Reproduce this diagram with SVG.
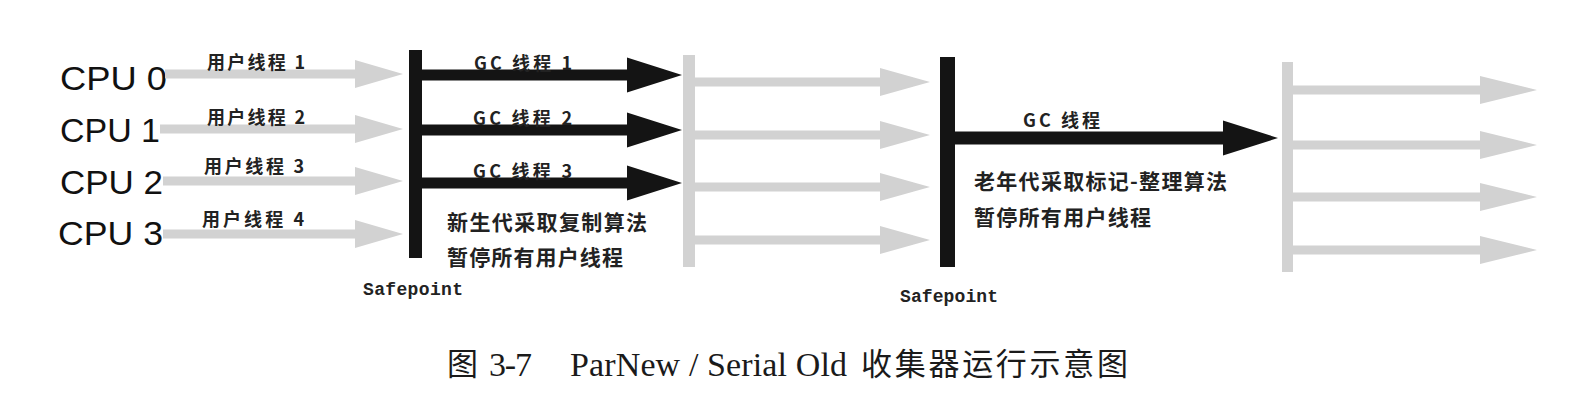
<svg xmlns="http://www.w3.org/2000/svg" width="1578" height="403" viewBox="0 0 1578 403">
<style>
.cpu{font-family:"Liberation Sans",Arial,sans-serif;font-size:34px;fill:#111}
.lbl{font-family:"Noto Sans CJK SC","Liberation Sans",sans-serif;font-size:18px;font-weight:bold;fill:#222}
.note{font-family:"Noto Sans CJK SC","Liberation Sans",sans-serif;font-size:21px;font-weight:bold;fill:#222}
.sp{font-family:"Liberation Mono",monospace;font-size:18px;font-weight:bold;fill:#222}
.cap{font-family:"Liberation Serif","Noto Sans CJK SC",serif;font-size:34px;fill:#1a1a1a}
.capc{font-family:"Noto Sans CJK SC",sans-serif;font-size:31px;fill:#1a1a1a}
.gray{fill:#d2d2d2}
.blk{fill:#141414}
</style>
<rect width="1578" height="403" fill="#ffffff"/>
<g id="cpu-labels">
<text class="cpu" x="60" y="90" textLength="107" lengthAdjust="spacingAndGlyphs">CPU 0</text>
<text class="cpu" x="60" y="142" textLength="100" lengthAdjust="spacingAndGlyphs">CPU 1</text>
<text class="cpu" x="60" y="194" textLength="103" lengthAdjust="spacingAndGlyphs">CPU 2</text>
<text class="cpu" x="58" y="245" textLength="105" lengthAdjust="spacingAndGlyphs">CPU 3</text>
</g>
<g id="safepoint-1">
<rect class="blk" x="409" y="50" width="13" height="208"/>
<text class="sp" x="363" y="295" textLength="100">Safepoint</text>
</g>
<g id="resume-bar-1">
<rect class="gray" x="683" y="55" width="12" height="212"/>
</g>
<g id="safepoint-2">
<rect class="blk" x="940" y="57" width="15" height="210"/>
<text class="sp" x="900" y="302" textLength="98">Safepoint</text>
</g>
<g id="resume-bar-2">
<rect class="gray" x="1282" y="62" width="11" height="210"/>
</g>
<g id="connectors">
<path class="gray" d="M165,69.5 H355 V60 L403,74 L355,88 V78.5 H165 Z"/>
<path class="gray" d="M160,124.5 H355 V115 L403,129 L355,143 V133.5 H160 Z"/>
<path class="gray" d="M163,176.5 H355 V167 L403,181 L355,195 V185.5 H163 Z"/>
<path class="gray" d="M163,229.5 H355 V220 L403,234 L355,248 V238.5 H163 Z"/>
<path class="blk" d="M422,69.5 H627 V57.5 L682,75 L627,92.5 V80.5 H422 Z"/>
<path class="blk" d="M422,124.5 H627 V112.5 L682,130 L627,147.5 V135.5 H422 Z"/>
<path class="blk" d="M422,177.5 H627 V165.5 L682,183 L627,200.5 V188.5 H422 Z"/>
<path class="gray" d="M695,77.5 H880 V68 L930,82 L880,96 V86.5 H695 Z"/>
<path class="gray" d="M695,130.5 H880 V121 L930,135 L880,149 V139.5 H695 Z"/>
<path class="gray" d="M695,182.5 H880 V173 L930,187 L880,201 V191.5 H695 Z"/>
<path class="gray" d="M695,235.5 H880 V226 L930,240 L880,254 V244.5 H695 Z"/>
<path class="blk" d="M955,131.5 H1223 V120.5 L1278,138 L1223,155.5 V144.5 H955 Z"/>
<path class="gray" d="M1293,85.5 H1480 V76 L1537,90 L1480,104 V94.5 H1293 Z"/>
<path class="gray" d="M1293,140.5 H1480 V131 L1537,145 L1480,159 V149.5 H1293 Z"/>
<path class="gray" d="M1293,192.5 H1480 V183 L1537,197 L1480,211 V201.5 H1293 Z"/>
<path class="gray" d="M1293,245.5 H1480 V236 L1537,250 L1480,264 V254.5 H1293 Z"/>
</g>
<g id="connector-labels">
<text class="lbl" x="207" y="69" textLength="98">用户线程 1</text>
<text class="lbl" x="207" y="124" textLength="98">用户线程 2</text>
<text class="lbl" x="204" y="173" textLength="100">用户线程 3</text>
<text class="lbl" x="202" y="226" textLength="102">用户线程 4</text>
<text class="lbl" x="474" y="70" textLength="98">GC 线程 1</text>
<text class="lbl" x="473" y="125" textLength="99">GC 线程 2</text>
<text class="lbl" x="473" y="178" textLength="99">GC 线程 3</text>
<text class="lbl" x="1023" y="127" textLength="77">GC 线程</text>
</g>
<g id="young-note">
<text class="note" x="447" y="230" textLength="200">新生代采取复制算法</text>
<text class="note" x="447" y="265" textLength="176">暂停所有用户线程</text>
</g>
<g id="old-note">
<text class="note" x="974" y="189" textLength="253">老年代采取标记-整理算法</text>
<text class="note" x="974" y="225" textLength="177">暂停所有用户线程</text>
</g>
<g id="caption">
<text class="capc" x="447" y="375">图</text>
<text class="cap" x="489" y="376" textLength="43">3-7</text>
<text class="cap" x="570" y="376" textLength="277">ParNew / Serial Old</text>
<text class="capc" x="861" y="375" textLength="267">收集器运行示意图</text>
</g>
</svg>
